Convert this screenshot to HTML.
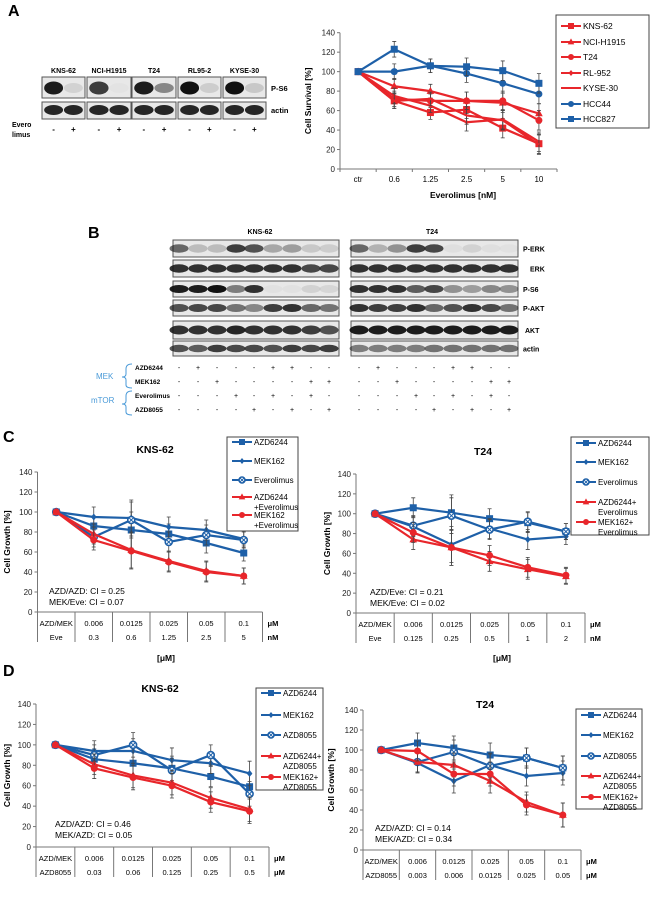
<!DOCTYPE html>
<html><head><meta charset="utf-8">
<style>
html,body{margin:0;padding:0;background:#fff;}
svg{display:block;font-family:"Liberation Sans",Arial,sans-serif;}
</style></head>
<body>
<svg id="fig" width="650" height="902" viewBox="0 0 650 902" xmlns="http://www.w3.org/2000/svg">
<text x="8" y="16" font-size="16" font-weight="bold">A</text>
<text x="88" y="238" font-size="16" font-weight="bold">B</text>
<text x="3" y="442" font-size="16" font-weight="bold">C</text>
<text x="3" y="676" font-size="16" font-weight="bold">D</text>
<g id="blots"></g>
<g id="charts"></g>
</svg>
<script>
// ---------- Panel A data ----------
const catsA = ["ctr","0.6","1.25","2.5","5","10"];
const ticksY = [0,20,40,60,80,100,120,140];
const a_kns62 = [100,70,58,61,42,26];
const a_nci = [100,85,80,70,68,57];
const a_t24 = [100,72,70,70,70,50];
const a_rl952 = [100,75,65,48,51,28];
const a_kyse = [100,70,72,55,50,25];
const a_hcc44 = [100,100,106,98,88,77];
const a_hcc827 = [100,123,106,105,101,88];
const a_err = [0,8,7,9,10,10];

// ---------- Panel C data ----------
const cL_azd = [100,86,82,78,69,59];
const cL_mek = [100,95,94,85,82,73];
const cL_eve = [100,75,92,70,77,72];
const cL_azdEve = [100,78,62,51,41,36];
const cL_mekEve = [100,72,61,50,40,36];
const cR_azd = [100,106,101,95,91,82];
const cR_mek = [100,87,69,85,74,77];
const cR_eve = [100,88,98,84,92,82];
const cR_azdEve = [100,74,66,52,44,37];
const cR_mekEve = [100,81,66,58,46,38];
const c_err = [0,10,18,10,10,8];
const tblMek = ["0.006","0.0125","0.025","0.05","0.1"];
const tblEveL = ["0.3","0.6","1.25","2.5","5"];
const tblEveR = ["0.125","0.25","0.5","1","2"];

// ---------- Panel D data ----------
const dL_azd = [100,86,82,77,69,59];
const dL_mek = [100,94,94,85,82,72];
const dL_azd8055 = [100,90,100,75,90,52];
const dL_azdCombo = [100,81,70,63,48,37];
const dL_mekCombo = [100,77,68,60,44,35];
const dR_azd = [100,107,102,95,92,82];
const dR_mek = [100,87,69,85,74,77];
const dR_azd8055 = [100,88,98,84,92,82];
const dR_azdCombo = [100,88,85,69,48,35];
const dR_mekCombo = [100,99,76,76,45,35];
const d_err = [0,10,12,12,10,12];
const tblAzdL = ["0.03","0.06","0.125","0.25","0.5"];
const tblAzdR = ["0.003","0.006","0.0125","0.025","0.05"];

const BLUE="#1e60a8", RED="#e8262b";
const NS="http://www.w3.org/2000/svg";
function el(tag, attrs, parent, txt){
  const e=document.createElementNS(NS,tag);
  for(const k in attrs) e.setAttribute(k,attrs[k]);
  if(txt!==undefined) e.textContent=txt;
  parent.appendChild(e); return e;
}
function marker(g, type, x, y, color, s){
  let m;
  if(type==="square"){ m=el("rect",{x:x-s,y:y-s,width:2*s,height:2*s,fill:color},g); }
  else if(type==="tri"){ m=el("polygon",{points:`${x},${y-s*1.2} ${x-s*1.1},${y+s*0.8} ${x+s*1.1},${y+s*0.8}`,fill:color},g); }
  else if(type==="circle"){ m=el("circle",{cx:x,cy:y,r:s,fill:color},g); }
  else if(type==="diamond"){ m=el("polygon",{points:`${x},${y-s} ${x+s*0.8},${y} ${x},${y+s} ${x-s*0.8},${y}`,fill:color},g); }
  else if(type==="open"){ m=el("g",{},g);
    el("circle",{cx:x,cy:y,r:s,fill:"#fff",stroke:color,"stroke-width":1.6},m);
    el("path",{d:`M${x-s*0.6},${y-s*0.6}L${x+s*0.6},${y+s*0.6}M${x+s*0.6},${y-s*0.6}L${x-s*0.6},${y+s*0.6}`,stroke:color,"stroke-width":1},m); }
  else { return null; }
  return m;
}
const charts=document.getElementById("charts");

function drawChart(c){
  const g=el("g",{},charts);
  
  
  const n=c.cats;
  const w=(c.x1-c.x0)/n;
  const xs=i=>c.x0+(i+0.5)*w;
  const ys=v=>c.yb-(v/140)*(c.yb-c.yt);
  const ax=el("line",{x1:c.x0,y1:c.yt,x2:c.x0,y2:c.yb,stroke:"#777","stroke-width":1},g);
  
  
  const bx=el("line",{x1:c.x0,y1:c.yb,x2:c.x1,y2:c.yb,stroke:"#777","stroke-width":1},g);
  
  
  ticksY.forEach(t=>{
    el("line",{x1:c.x0-3,y1:ys(t),x2:c.x0,y2:ys(t),stroke:"#777"},g);
    const tl=el("text",{x:c.x0-5,y:ys(t)+3,"font-size":8,"text-anchor":"end",fill:"#222"},g,String(t));
    
    
  });
  const yt=el("text",{x:0,y:0,"font-size":8.5,"font-weight":"bold","text-anchor":"middle",transform:`translate(${c.ytx},${(c.yt+c.yb)/2}) rotate(-90)`},g,c.ytitle);
  
  
  if(c.title){
    const tt=el("text",{x:c.tx,y:c.ty,"font-size":10.5,"font-weight":"bold","text-anchor":"middle"},g,c.title);
    
    
  }
  if(c.catLabels){
    for(let i=0;i<=n;i++) el("line",{x1:c.x0+i*w,y1:c.yb,x2:c.x0+i*w,y2:c.yb+3,stroke:"#777"},g);
    c.catLabels.forEach((l,i)=>{
      const t=el("text",{x:xs(i),y:c.yb+13,"font-size":8,"text-anchor":"middle"},g,l);
      
      
    });
  }
  if(c.table){
    const r1=c.yb+11, r2=c.yb+25, bot=c.yb+30;
    for(let i=0;i<=n;i++) el("line",{x1:c.x0+i*w,y1:c.yb,x2:c.x0+i*w,y2:bot,stroke:"#777"},g);
    const l1=el("text",{x:xs(0),y:r1+3,"font-size":7.5,"text-anchor":"middle"},g,c.table[0]);
    
    
    const l2=el("text",{x:xs(0),y:r2+3,"font-size":7.5,"text-anchor":"middle"},g,c.table[2]);
    
    
    c.table[1].forEach((v,i)=>{ const t=el("text",{x:xs(i+1),y:r1+3,"font-size":7.5,"text-anchor":"middle"},g,v);
      
       });
    c.table[3].forEach((v,i)=>{ const t=el("text",{x:xs(i+1),y:r2+3,"font-size":7.5,"text-anchor":"middle"},g,v);
      
       });
    const u1=el("text",{x:c.x1+5,y:r1+3,"font-size":7.5,"font-weight":"bold"},g,c.table[4]);
    
    
    const u2=el("text",{x:c.x1+5,y:r2+3,"font-size":7.5,"font-weight":"bold"},g,c.table[5]);
    
    
  }
  if(c.xtitle){
    const xt=el("text",{x:c.xtx,y:c.xty,"font-size":8.5,"font-weight":"bold","text-anchor":"middle"},g,c.xtitle);
    
    
  }
  if(c.ci){
    c.ci.forEach((s,i)=>{ const t=el("text",{x:c.cix,y:c.ciy+i*11,"font-size":8.5},g,s);
      
       });
  }
  c.series.forEach(s=>{
    const sg=el("g",{},g);
    
    
    s.vals.forEach((v,i)=>{
      if(!c.err[i]) return;
      const e=el("path",{d:`M${xs(i)},${ys(v-c.err[i])}L${xs(i)},${ys(v+c.err[i])}M${xs(i)-2},${ys(v-c.err[i])}h4M${xs(i)-2},${ys(v+c.err[i])}h4`,stroke:"#444","stroke-width":0.8,fill:"none"},sg);
      
      
    });
    const pts=s.vals.map((v,i)=>xs(i)+","+ys(v)).join(" ");
    const ln=el("polyline",{points:pts,fill:"none",stroke:s.color,"stroke-width":2.2},sg);
    
    
    s.vals.forEach((v,i)=>{
      const m=marker(sg,s.m,xs(i),ys(v),s.color,s.sz||3.5);
      if(m){ 
         }
    });
  });
  const lg=el("g",{},g);
  
  
  const L=c.legend;
  el("rect",{x:L.x,y:L.y,width:L.w,height:L.h,fill:"#fff",stroke:"#444","stroke-width":1},lg);
  c.series.forEach((s,i)=>{
    const yy=L.ys[i];
    const eg=el("g",{},lg);
    
    
    el("line",{x1:L.x+5,y1:yy,x2:L.x+25,y2:yy,stroke:s.color,"stroke-width":2},eg);
    marker(eg,s.m,L.x+15,yy,s.color,3);
    s.label.forEach((t,j)=>el("text",{x:L.x+27,y:yy+3+j*10,"font-size":L.fs||8},eg,t));
  });
}

drawChart({name:"chart-a-cell-survival",cats:6,x0:340,x1:557,yt:32.7,yb:169,
  ytitle:"Cell  Survival [%]",ytx:311,catLabels:catsA,xtitle:"Everolimus [nM]",xtx:463,xty:198,err:a_err,
  series:[
    {key:"kns62",vals:a_kns62,color:RED,m:"square",label:["KNS-62"]},
    {key:"nci-h1915",vals:a_nci,color:RED,m:"tri",label:["NCI-H1915"]},
    {key:"t24",vals:a_t24,color:RED,m:"circle",label:["T24"]},
    {key:"rl952",vals:a_rl952,color:RED,m:"diamond",sz:2.5,label:["RL-952"]},
    {key:"kyse30",vals:a_kyse,color:RED,m:"none",label:["KYSE-30"]},
    {key:"hcc44",vals:a_hcc44,color:BLUE,m:"circle",label:["HCC44"]},
    {key:"hcc827",vals:a_hcc827,color:BLUE,m:"square",label:["HCC827"]}],
  legend:{x:556,y:15,w:93,h:113,ys:[26,42,57,73,88,104,119],fs:8.5}});

const legC=["Everolimus"];
drawChart({name:"chart-c-kns62",cats:6,x0:37.5,x1:262.5,yt:472,yb:612,title:"KNS-62",tx:155,ty:453,
  ytitle:"Cell  Growth [%]",ytx:10,err:c_err,
  table:["AZD/MEK",tblMek,"Eve",tblEveL,"μM","nM"],xtitle:"[μM]",xtx:166,xty:661,
  ci:["AZD/AZD: CI = 0.25","MEK/Eve: CI = 0.07"],cix:49,ciy:594,
  series:[
    {key:"azd6244",vals:cL_azd,color:BLUE,m:"square",label:["AZD6244"]},
    {key:"mek162",vals:cL_mek,color:BLUE,m:"diamond",label:["MEK162"]},
    {key:"everolimus",vals:cL_eve,color:BLUE,m:"open",label:legC},
    {key:"azd6244-everolimus",vals:cL_azdEve,color:RED,m:"tri",label:["AZD6244","+Everolimus"]},
    {key:"mek162-everolimus",vals:cL_mekEve,color:RED,m:"circle",label:["MEK162","+Everolimus"]}],
  legend:{x:227,y:437,w:71,h:94,ys:[442,461,480,497,515]}});

drawChart({name:"chart-c-t24",cats:6,x0:356,x1:585,yt:474,yb:613,title:"T24",tx:483,ty:455,
  ytitle:"Cell  Growth [%]",ytx:330,err:c_err,
  table:["AZD/MEK",tblMek,"Eve",tblEveR,"μM","nM"],xtitle:"[μM]",xtx:502,xty:661,
  ci:["AZD/Eve: CI = 0.21","MEK/Eve: CI = 0.02"],cix:370,ciy:595,
  series:[
    {key:"azd6244",vals:cR_azd,color:BLUE,m:"square",label:["AZD6244"]},
    {key:"mek162",vals:cR_mek,color:BLUE,m:"diamond",label:["MEK162"]},
    {key:"everolimus",vals:cR_eve,color:BLUE,m:"open",label:legC},
    {key:"azd6244-everolimus",vals:cR_azdEve,color:RED,m:"tri",label:["AZD6244+","Everolimus"]},
    {key:"mek162-everolimus",vals:cR_mekEve,color:RED,m:"circle",label:["MEK162+","Everolimus"]}],
  legend:{x:571,y:437,w:78,h:98,ys:[443,462,482,502,522]}});

drawChart({name:"chart-d-kns62",cats:6,x0:36,x1:269,yt:704,yb:847,title:"KNS-62",tx:160,ty:692,
  ytitle:"Cell  Growth [%]",ytx:10,err:d_err,
  table:["AZD/MEK",tblMek,"AZD8055",tblAzdL,"μM","μM"],
  ci:["AZD/AZD: CI = 0.46","MEK/AZD: CI = 0.05"],cix:55,ciy:827,
  series:[
    {key:"azd6244",vals:dL_azd,color:BLUE,m:"square",label:["AZD6244"]},
    {key:"mek162",vals:dL_mek,color:BLUE,m:"diamond",label:["MEK162"]},
    {key:"azd8055",vals:dL_azd8055,color:BLUE,m:"open",label:["AZD8055"]},
    {key:"azd6244-azd8055",vals:dL_azdCombo,color:RED,m:"tri",label:["AZD6244+","AZD8055"]},
    {key:"mek162-azd8055",vals:dL_mekCombo,color:RED,m:"circle",label:["MEK162+","AZD8055"]}],
  legend:{x:256,y:688,w:67,h:102,ys:[693,715,735,756,777]}});

drawChart({name:"chart-d-t24",cats:6,x0:363,x1:581,yt:710,yb:850,title:"T24",tx:485,ty:708,
  ytitle:"Cell  Growth [%]",ytx:334,err:d_err,
  table:["AZD/MEK",tblMek,"AZD8055",tblAzdR,"μM","μM"],
  ci:["AZD/AZD: CI = 0.14","MEK/AZD: CI = 0.34"],cix:375,ciy:831,
  series:[
    {key:"azd6244",vals:dR_azd,color:BLUE,m:"square",label:["AZD6244"]},
    {key:"mek162",vals:dR_mek,color:BLUE,m:"diamond",label:["MEK162"]},
    {key:"azd8055",vals:dR_azd8055,color:BLUE,m:"open",label:["AZD8055"]},
    {key:"azd6244-azd8055",vals:dR_azdCombo,color:RED,m:"tri",label:["AZD6244+","AZD8055"]},
    {key:"mek162-azd8055",vals:dR_mekCombo,color:RED,m:"circle",label:["MEK162+","AZD8055"]}],
  legend:{x:576,y:709,w:66,h:100,ys:[715,735,756,776,797]}});

// ---------- Blots ----------
const blots=document.getElementById("blots");
function txt(x,y,s,fs,name,extra){
  const t=el("text",Object.assign({x:x,y:y,"font-size":fs,"font-weight":"bold"},extra||{}),blots,s);
  
  
  return t;
}
function box(x,y,w,h,name){
  const r=el("rect",{x:x,y:y,width:w,height:h,fill:"#e8e8e8",stroke:"#555","stroke-width":1},blots);
  
  
}
function band(cx,cy,w,h,op){
  el("ellipse",{cx:cx,cy:cy,rx:w/2,ry:h/2,fill:"#111","fill-opacity":op},blots);
}
const aGroups=[[42,85,"KNS-62"],[87,131,"NCI-H1915"],[132,176,"T24"],[178,221,"RL95-2"],[223,266,"KYSE-30"]];
const aPS6=[[0.95,0.1],[0.8,0.02],[0.95,0.45],[1,0.12],[1,0.15]];
aGroups.forEach((gr,i)=>{
  const [x0,x1,lab]=gr, w=x1-x0;
  txt((x0+x1)/2,73,lab,7,"blot-a-cell-line",{"text-anchor":"middle"});
  box(x0,77,w,21,"blot-a-ps6");
  box(x0,102,w,17,"blot-a-actin");
  band(x0+w*0.27,88,w*0.44,13,aPS6[i][0]);
  band(x0+w*0.73,88,w*0.44,10,aPS6[i][1]);
  band(x0+w*0.27,110,w*0.44,10,0.9);
  band(x0+w*0.73,110,w*0.44,10,0.9);
  txt(x0+w*0.27,132,"-",8,"treatment-minus",{"text-anchor":"middle"});
  txt(x0+w*0.73,132,"+",8,"treatment-plus",{"text-anchor":"middle"});
});
txt(271,91,"P-S6",7.5,"label-ps6");
txt(271,113,"actin",7.5,"label-actin");
txt(12,127,"Evero",7,"label-everolimus-1");
txt(12,137,"limus",7,"label-everolimus-2");

const bL=[179,198,217,236,254,273,292,311,329];
const bR=[359,378,397,416,434,453,472,491,509];
const rows=[[240,17,"P-ERK",523],[260,17,"ERK",530],[281,16,"P-S6",523],[300,16,"P-AKT",523],[321,18,"AKT",525],[341,15,"actin",523]];
const intL=[[0.6,0.2,0.2,0.8,0.7,0.3,0.35,0.15,0.12],[0.85,0.85,0.85,0.85,0.85,0.85,0.85,0.75,0.75],[0.95,0.95,1,0.5,0.85,0.03,0.03,0.1,0.08],[0.7,0.75,0.75,0.55,0.45,0.8,0.85,0.6,0.55],[0.85,0.85,0.85,0.9,0.85,0.85,0.85,0.8,0.7],[0.7,0.65,0.8,0.75,0.75,0.7,0.8,0.75,0.8]];
const intR=[[0.6,0.25,0.4,0.8,0.75,0.04,0.1,0.04,0.03],[0.85,0.85,0.85,0.85,0.85,0.85,0.85,0.85,0.85],[0.85,0.85,0.85,0.65,0.75,0.4,0.35,0.45,0.4],[0.85,0.8,0.8,0.85,0.6,0.7,0.85,0.75,0.55],[0.95,0.95,0.95,0.95,0.95,0.95,0.95,0.95,0.95],[0.5,0.5,0.5,0.5,0.55,0.55,0.55,0.55,0.55]];
txt(260,234,"KNS-62",7,"blot-b-title-kns62",{"text-anchor":"middle"});
txt(432,234,"T24",7,"blot-b-title-t24",{"text-anchor":"middle"});
rows.forEach((r,ri)=>{
  const [y,h,lab,lx]=r;
  box(173,y,166,h,"blot-b-kns62-"+lab.toLowerCase());
  box(351,y,167,h,"blot-b-t24-"+lab.toLowerCase());
  bL.forEach((x,i)=>band(x,y+h/2,19,h*0.5,intL[ri][i]));
  bR.forEach((x,i)=>band(x,y+h/2,19,h*0.5,intR[ri][i]));
  txt(lx,y+h/2+3,lab,7,"label-"+lab.toLowerCase());
});
const trt=[["AZD6244","-+---++--"],["MEK162","--+----++"],["Everolimus","---+-+-+-"],["AZD8055","----+-+-+"]];
trt.forEach((t,ri)=>{
  const y=370+ri*14;
  txt(135,y,t[0],6.5,"treatment-label");
  [...t[1]].forEach((c,i)=>{
    txt(bL[i],y,c,7,"treatment-sign",{"text-anchor":"middle","font-weight":"normal"});
    txt(bR[i],y,c,7,"treatment-sign",{"text-anchor":"middle","font-weight":"normal"});
  });
});
txt(96,379,"MEK",8,"group-label-mek",{fill:"#4a9ad8","font-weight":"normal"});
txt(91,403,"mTOR",8,"group-label-mtor",{fill:"#4a9ad8","font-weight":"normal"});
const br=el("path",{d:"M132,364 q-6,0 -6,5 v5 q0,3 -4,3 q4,0 4,3 v5 q0,3 6,3 M132,391 q-6,0 -6,5 v5 q0,3 -4,3 q4,0 4,3 v5 q0,3 6,3",fill:"none",stroke:"#4a9ad8","stroke-width":1},blots);


</script>
</body></html>
